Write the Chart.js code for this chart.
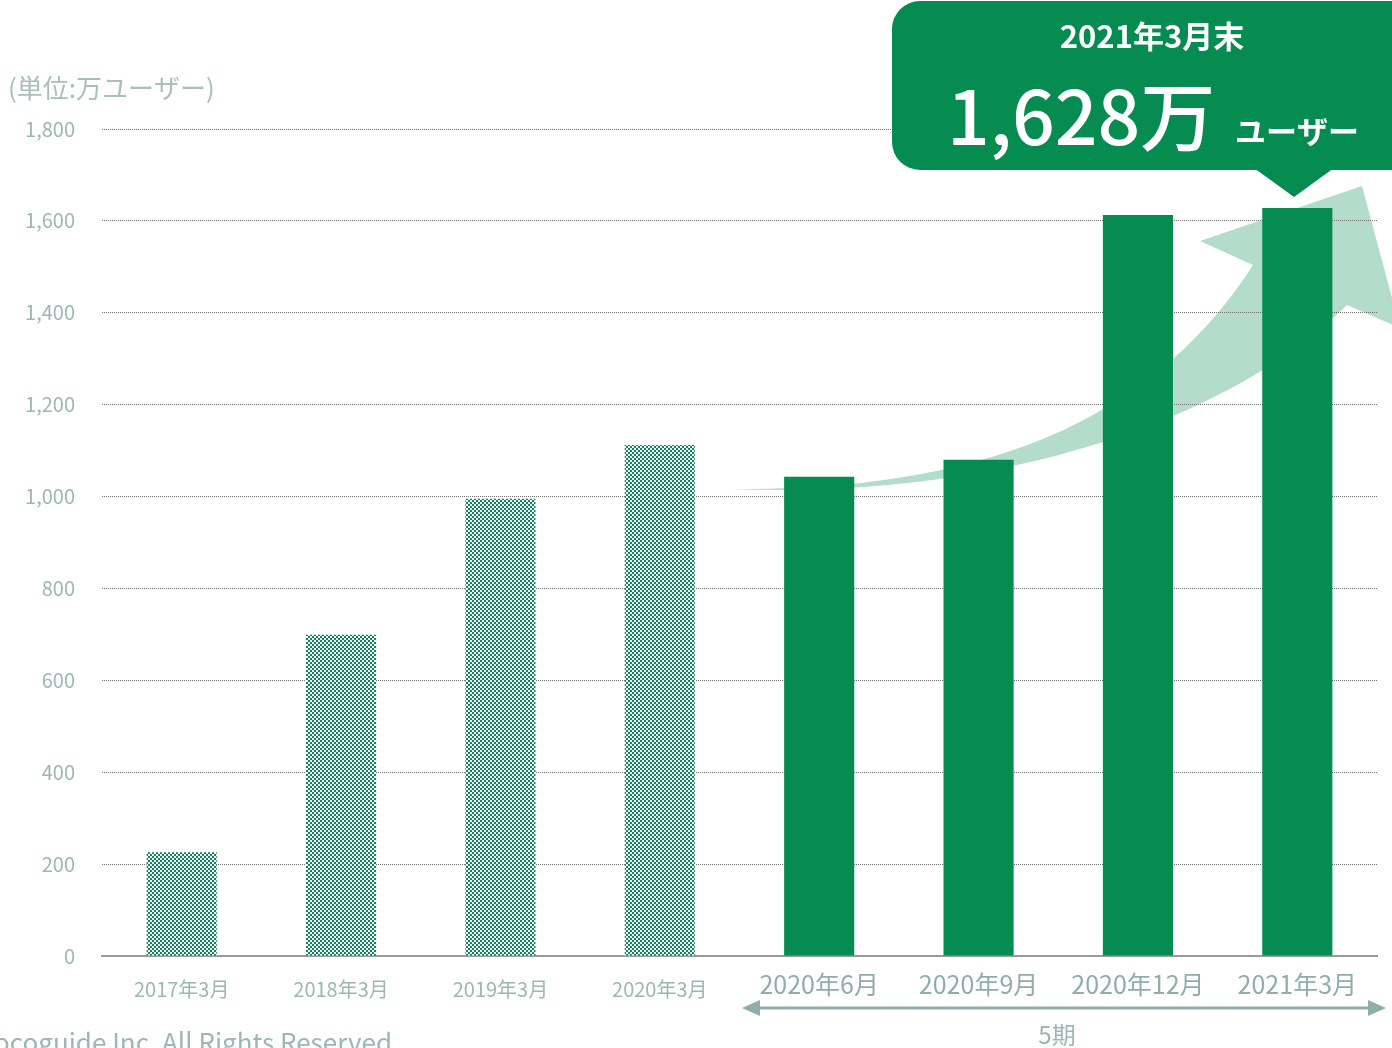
<!DOCTYPE html>
<html lang="ja">
<head>
<meta charset="utf-8">
<title>ユーザー数推移</title>
<script src="https://cdn.jsdelivr.net/npm/chart.js@4"></script>
<style>
  html, body { margin: 0; padding: 0; background: #fff; }
  #wrap { width: 1392px; height: 1048px; overflow: hidden; }
</style>
</head>
<body>
<div id="wrap"><canvas id="chart" width="1392" height="1048"></canvas></div>
<script>
// データ
const labels = ['2017年3月', '2018年3月', '2019年3月', '2020年3月', '2020年6月', '2020年9月', '2020年12月', '2021年3月'];
const users = [226, 699, 995, 1112, 1043, 1080, 1613, 1628];
const yearly = [true, true, true, true, false, false, false, false];
const yTicks = [0, 200, 400, 600, 800, 1000, 1200, 1400, 1600, 1800];

const green = '#068b50';
const lightGreen = '#b3dcca';
const grayText = '#9cb7b4';
const FONT = '"Noto Sans CJK JP", "Noto Sans", sans-serif';

// 網掛けパターン
function makePattern() {
  const c = document.createElement('canvas');
  c.width = 4; c.height = 4;
  const p = c.getContext('2d');
  p.fillStyle = '#fff';
  p.fillRect(0, 0, 4, 4);
  p.fillStyle = green;
  p.fillRect(0, 0, 2, 2);
  p.fillRect(2, 2, 2, 2);
  return document.querySelector('#chart').getContext('2d').createPattern(c, 'repeat');
}
const pattern = makePattern();

// 背景の矢印
const growthArrow = {
  id: 'growthArrow',
  beforeDraw(chart) {
    const ctx = chart.ctx;
    ctx.save();
    ctx.fillStyle = lightGreen;
    ctx.beginPath();
    ctx.moveTo(730, 489);
    ctx.bezierCurveTo(1000, 492, 1160, 410, 1253, 265);
    ctx.lineTo(1200, 241);
    ctx.lineTo(1362, 186);
    ctx.lineTo(1400, 328);
    ctx.lineTo(1347, 305);
    ctx.bezierCurveTo(1230, 420, 1000, 500, 730, 489);
    ctx.closePath();
    ctx.fill();
    ctx.restore();
  }
};

// 吹き出しと注記
const notes = {
  id: 'notes',
  afterDraw(chart) {
    const ctx = chart.ctx;
    ctx.save();

    ctx.fillStyle = '#a8bfbc';
    ctx.font = '26px ' + FONT;
    ctx.textAlign = 'left';
    ctx.textBaseline = 'middle';
    ctx.fillText('(単位:万ユーザー)', 8, 88);

    // 吹き出し
    ctx.fillStyle = green;
    ctx.beginPath();
    ctx.roundRect(892, 1, 540, 169, 28);
    ctx.fill();
    ctx.beginPath();
    ctx.moveTo(1254, 168);
    ctx.lineTo(1334, 168);
    ctx.lineTo(1294, 197);
    ctx.closePath();
    ctx.fill();

    ctx.fillStyle = '#fff';
    ctx.textAlign = 'center';
    ctx.font = 'bold 31px ' + FONT;
    ctx.fillText('2021年3月末', 1152, 36);
    const last = users[users.length - 1];
    ctx.textAlign = 'left';
    ctx.textBaseline = 'alphabetic';
    ctx.font = '500 75px ' + FONT;
    ctx.fillText(last.toLocaleString('en-US') + '万', 947, 145);
    ctx.font = 'bold 31px ' + FONT;
    ctx.fillText('ユーザー', 1235, 143);

    // 5期 の矢印
    const ac = '#8fadaa';
    ctx.strokeStyle = ac;
    ctx.fillStyle = ac;
    ctx.lineWidth = 3;
    ctx.beginPath();
    ctx.moveTo(755, 1008);
    ctx.lineTo(1372, 1008);
    ctx.stroke();
    ctx.beginPath();
    ctx.moveTo(742, 1008); ctx.lineTo(760, 1000); ctx.lineTo(760, 1016); ctx.closePath();
    ctx.fill();
    ctx.beginPath();
    ctx.moveTo(1386, 1008); ctx.lineTo(1368, 1000); ctx.lineTo(1368, 1016); ctx.closePath();
    ctx.fill();

    ctx.fillStyle = grayText;
    ctx.textAlign = 'center';
    ctx.textBaseline = 'middle';
    ctx.font = '24px ' + FONT;
    ctx.fillText('5期', 1057, 1035);

    ctx.textAlign = 'right';
    ctx.font = '26px ' + FONT;
    ctx.fillText('Copyright © Locoguide Inc. All Rights Reserved', 392, 1042);
    ctx.restore();
  }
};

new Chart(document.querySelector('#chart'), {
  type: 'bar',
  data: {
    labels: labels,
    datasets: [{
      label: 'ユーザー数',
      data: users,
      backgroundColor: users.map((v, i) => yearly[i] ? pattern : green),
      borderWidth: 0,
      barPercentage: 0.44,
      categoryPercentage: 1
    }]
  },
  options: {
    responsive: false,
    animation: false,
    layout: { padding: { top: 129, right: 15, left: 0, bottom: 0 } },
    plugins: { legend: { display: false }, tooltip: { enabled: false } },
    scales: {
      x: {
        grid: { display: false, drawTicks: false },
        border: { display: true, color: '#9a9a9a', width: 2 },
        afterFit: s => { s.height = 92; },
        ticks: {
          padding: 16,
          maxRotation: 0,
          autoSkip: false,
          color: ctx => yearly[ctx.index] ? '#9db7b4' : '#8fadaa',
          font: ctx => yearly[ctx.index]
            ? { family: FONT, size: 20, lineHeight: 34 / 20 }
            : { family: FONT, size: 25, lineHeight: 24 / 25 }
        }
      },
      y: {
        min: 0,
        max: 1800,
        afterFit: s => { s.width = 102; },
        afterBuildTicks: s => { s.ticks = yTicks.map(v => ({ value: v })); },
        border: { display: false, dash: [1, 1] },
        grid: {
          drawTicks: false,
          color: ctx => ctx.tick.value === 0 ? 'rgba(0,0,0,0)' : '#6f6f6f',
          lineWidth: 1
        },
        ticks: {
          padding: 27,
          color: grayText,
          font: { family: FONT, size: 20 },
          callback: v => v.toLocaleString('en-US')
        }
      }
    }
  },
  plugins: [growthArrow, notes]
});
</script>
</body>
</html>
